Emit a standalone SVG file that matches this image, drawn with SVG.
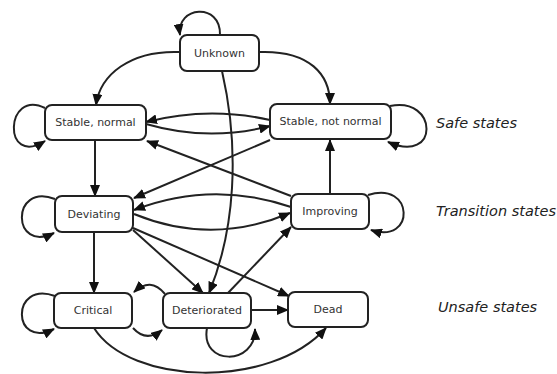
<svg xmlns="http://www.w3.org/2000/svg" width="557" height="374" viewBox="0 0 557 374">
<style>
.node rect{fill:#fff;stroke:#222;stroke-width:2}
.node text{font-family:"DejaVu Sans",Verdana,sans-serif;font-size:11px;fill:#333;text-anchor:middle}
.edge{fill:none;stroke:#222;stroke-width:2;marker-end:url(#ah)}
.lbl{font-family:"DejaVu Sans",Verdana,sans-serif;font-size:14.5px;font-style:italic;fill:#222}
</style>
<defs>
<marker id="ah" markerUnits="userSpaceOnUse" markerWidth="12" markerHeight="10" refX="11" refY="5" orient="auto">
<path d="M0,0 L12,5 L0,10 z" fill="#111"/>
</marker>
</defs>
<rect width="557" height="374" fill="#fff"/>
<g id="connectors">
<path class="edge" d="M220,35 C221,2 176,6 180,35"/>
<path class="edge" d="M180,52 C130,50 100,75 96,105"/>
<path class="edge" d="M259,52 C310,50 330,75 330,104"/>
<path class="edge" d="M222,71 C240,150 235,230 209,293"/>
<path class="edge" d="M270,120 Q208,106 146,122"/>
<path class="edge" d="M146,124 Q208,142 270,126"/>
<path class="edge" d="M45,108 C5,88 2,168 45,141"/>
<path class="edge" d="M390,106 C438,96 440,165 388,142"/>
<path class="edge" d="M95,140 L95,196"/>
<path class="edge" d="M270,140 L134,198"/>
<path class="edge" d="M291,196 L147,141"/>
<path class="edge" d="M330,194 L330,140"/>
<path class="edge" d="M291,207 Q212,180 134,210"/>
<path class="edge" d="M134,214 Q212,246 290,213"/>
<path class="edge" d="M55,199 C10,182 12,254 54,233"/>
<path class="edge" d="M368,195 C414,180 416,245 371,230"/>
<path class="edge" d="M94,232 L94,293"/>
<path class="edge" d="M133,230 L203,293"/>
<path class="edge" d="M133,228 L289,296"/>
<path class="edge" d="M228,293 L291,227"/>
<path class="edge" d="M55,296 C10,280 12,350 54,329"/>
<path class="edge" d="M165,294 C155,282 145,282 134,292"/>
<path class="edge" d="M133,328 C142,338 152,338 162,330"/>
<path class="edge" d="M207,328 C200,366 256,366 255,329"/>
<path class="edge" d="M251,310 L288,310"/>
<path class="edge" d="M94,328 C130,385 270,390 326,328"/>
</g>
<g id="unknown" class="node"><rect x="180" y="35" width="79" height="36" rx="7"/><text x="219.5" y="57">Unknown</text></g>
<g id="stable-normal" class="node"><rect x="45" y="105" width="101" height="35" rx="7"/><text x="95.5" y="126">Stable, normal</text></g>
<g id="stable-not-normal" class="node"><rect x="270" y="104" width="121" height="35" rx="7"/><text x="330.5" y="125">Stable, not normal</text></g>
<g id="deviating" class="node"><rect x="55" y="196" width="78" height="36" rx="7"/><text x="94" y="218">Deviating</text></g>
<g id="improving" class="node"><rect x="291" y="194" width="78" height="35" rx="7"/><text x="330" y="215">Improving</text></g>
<g id="critical" class="node"><rect x="54" y="293" width="78" height="35" rx="7"/><text x="93" y="314">Critical</text></g>
<g id="deteriorated" class="node"><rect x="163" y="293" width="88" height="35" rx="7"/><text x="207" y="314">Deteriorated</text></g>
<g id="dead" class="node"><rect x="288" y="292" width="80" height="35" rx="7"/><text x="328" y="313">Dead</text></g>
<text class="lbl" x="436" y="128">Safe states</text>
<text class="lbl" x="436" y="216">Transition states</text>
<text class="lbl" x="438" y="312">Unsafe states</text>
</svg>
